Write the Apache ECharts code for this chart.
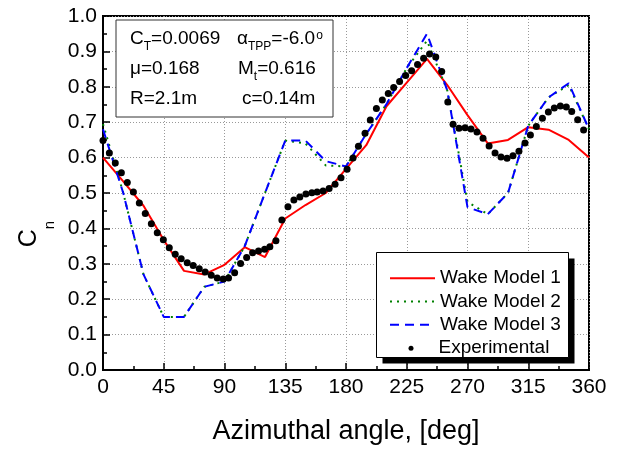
<!DOCTYPE html>
<html>
<head>
<meta charset="utf-8">
<title>Cn vs azimuth</title>
<script src="https://cdn.jsdelivr.net/npm/echarts@6/dist/echarts.min.js"></script>
<style>
html, body { margin: 0; padding: 0; background: #fff; }
#chart { width: 626px; height: 450px; }
</style>
</head>
<body>
<div id="chart"></div>
<script>
// model curves, every 15 deg
var modelAngle = [0, 15, 30, 45, 60, 75, 90, 105, 120, 135, 150, 165, 180, 195, 210, 225, 240, 255, 270, 285, 300, 315, 330, 345, 360];
var wake1 = [0.600, 0.533, 0.464, 0.367, 0.280, 0.270, 0.297, 0.347, 0.319, 0.428, 0.466, 0.500, 0.568, 0.635, 0.745, 0.812, 0.879, 0.805, 0.720, 0.640, 0.650, 0.686, 0.679, 0.650, 0.600];
var wake2 = [0.695, 0.500, 0.270, 0.150, 0.150, 0.235, 0.250, 0.350, 0.500, 0.648, 0.640, 0.578, 0.575, 0.667, 0.751, 0.853, 0.930, 0.790, 0.475, 0.440, 0.500, 0.690, 0.770, 0.805, 0.680];
var wake3 = [0.680, 0.500, 0.270, 0.150, 0.150, 0.235, 0.250, 0.350, 0.500, 0.648, 0.648, 0.590, 0.575, 0.667, 0.751, 0.853, 0.950, 0.790, 0.460, 0.440, 0.500, 0.690, 0.770, 0.810, 0.680];

// experimental points
var expAngle = [0, 4.7, 9.1, 13.6, 18, 22.5, 26.9, 31.3, 35.8, 40.2,
    44.7, 49.1, 53.5, 57.9, 62.4, 66.8, 71.3, 75.7, 80.2, 84.6,
    89.1, 93.0, 97.5, 101.9, 106.4, 110.8, 115.2, 119.7, 123.6, 128.1,
    132.5, 137, 141.4, 145.8, 150.3, 154.7, 158.6, 163, 167.5, 171.9,
    176.3, 180.8, 185.2, 189.2, 194.1, 198, 202.5, 206.9, 211.3, 215.3,
    219.7, 224.2, 228.6, 233, 237.5, 241.9, 246.5, 250.9, 255.4, 259.3,
    263.7, 268.2, 272.6, 277, 281.5, 286, 290.4, 294.8, 299.3, 303.7,
    308.1, 312.6, 316.6, 321, 325.5, 329.9, 334.3, 338.8, 343.2, 347.2,
    351.6, 356];
var expCn = [0.648, 0.613, 0.585, 0.557, 0.530, 0.503, 0.472, 0.442, 0.413, 0.388,
    0.368, 0.345, 0.327, 0.314, 0.303, 0.295, 0.286, 0.277, 0.268, 0.260,
    0.257, 0.260, 0.275, 0.301, 0.318, 0.331, 0.336, 0.341, 0.348, 0.365,
    0.424, 0.461, 0.480, 0.489, 0.497, 0.501, 0.503, 0.506, 0.513, 0.525,
    0.543, 0.567, 0.599, 0.632, 0.669, 0.706, 0.739, 0.763, 0.781, 0.798,
    0.815, 0.832, 0.845, 0.863, 0.881, 0.893, 0.884, 0.843, 0.757, 0.694,
    0.683, 0.684, 0.681, 0.672, 0.655, 0.633, 0.613, 0.602, 0.598, 0.605,
    0.618, 0.641, 0.664, 0.688, 0.711, 0.729, 0.740, 0.746, 0.743, 0.730,
    0.707, 0.678];

var seriesNames = ['Wake Model 1', 'Wake Model 2', 'Wake Model 3', 'Experimental'];

var FONT = '"Liberation Sans", Arial, sans-serif';

function pairs(xs, ys) {
    return xs.map(function (x, i) { return [x, ys[i]]; });
}

var chart = echarts.init(document.getElementById('chart'));

var mainText = { fontSize: 19, fontFamily: FONT, color: '#000', lineHeight: 24, verticalAlign: 'top' };
var subText = { fontSize: 12, fontFamily: FONT, color: '#000', lineHeight: 12, padding: [11, 0, 0, 0], verticalAlign: 'top' };
var supText = { fontSize: 12, fontFamily: FONT, color: '#000', lineHeight: 12, padding: [0, 0, 0, 1], verticalAlign: 'top' };
var boxRich = { m: mainText, s: subText, p: supText };

function boxText(x, y, txt) {
    return {
        type: 'text', x: x, y: y, z: 12,
        style: { text: txt, rich: boxRich, verticalAlign: 'middle', align: 'left' }
    };
}

var legendText = { fontSize: 19, lineHeight: 23.3, color: '#000', fontFamily: FONT };

var option = {
    animation: false,
    textStyle: { fontFamily: FONT },
    grid: {
        left: 103, right: 37, top: 16, bottom: 77,
        show: true, borderColor: '#000', borderWidth: 2
    },
    xAxis: {
        type: 'value', min: 0, max: 360, interval: 45,
        name: 'Azimuthal angle, [deg]',
        nameLocation: 'middle', nameGap: 48,
        nameTextStyle: { fontSize: 27, color: '#000', fontFamily: FONT },
        axisLine: { show: true, lineStyle: { color: '#000', width: 2 } },
        axisTick: { show: true, inside: true, length: 7, lineStyle: { color: '#000', width: 1.5 } },
        minorTick: { show: true, splitNumber: 2, length: 4, lineStyle: { color: '#000', width: 1.5 } },
        axisLabel: { margin: 7, fontSize: 21, color: '#000', fontFamily: FONT },
        splitLine: { show: true, lineStyle: { color: '#999', type: [1, 2], width: 1 } }
    },
    yAxis: {
        type: 'value', min: 0, max: 1, interval: 0.1,
        name: '{c|C}{s|n}',
        nameLocation: 'middle', nameGap: 53,
        nameTextStyle: {
            padding: [0, 82, 0, 0],
            rich: {
                c: { fontSize: 25, fontFamily: FONT, color: '#000', lineHeight: 28, verticalAlign: 'top' },
                s: { fontSize: 15, fontFamily: FONT, color: '#000', lineHeight: 15, padding: [25, 0, 0, 0], verticalAlign: 'top' }
            }
        },
        axisLine: { show: true, lineStyle: { color: '#000', width: 2 } },
        axisTick: { show: true, inside: true, length: 7, lineStyle: { color: '#000', width: 1.5 } },
        minorTick: { show: true, splitNumber: 2, length: 4, lineStyle: { color: '#000', width: 1.5 } },
        axisLabel: {
            margin: 6, fontSize: 21, color: '#000', fontFamily: FONT,
            formatter: function (v) { return v.toFixed(1); }
        },
        splitLine: { show: true, lineStyle: { color: '#999', type: [1, 2], width: 1 } }
    },
    legend: [{
        data: seriesNames.slice(0, 3),
        orient: 'vertical', left: 389, top: 266.5,
        itemWidth: 45, itemHeight: 10, itemGap: 0, padding: 0,
        itemStyle: { opacity: 0 },
        selectedMode: false, z: 20,
        textStyle: legendText
    }, {
        data: [seriesNames[3]],
        orient: 'vertical', left: 408.5, top: 336.5,
        itemWidth: 5, itemHeight: 5, itemGap: 0, padding: 0,
        icon: 'circle',
        selectedMode: false, z: 20,
        textStyle: { fontSize: 19, lineHeight: 23.3, color: '#000', fontFamily: FONT, padding: [0, 0, 0, 20] }
    }],
    graphic: [
        // parameter box
        { type: 'rect', z: 10, shape: { x: 116, y: 20, width: 217, height: 97 },
          style: { fill: '#fff', stroke: '#333', lineWidth: 1 } },
        boxText(130, 41.7, '{m|C}{s|T}{m|=0.0069}'),
        boxText(237, 41.7, '{m|α}{s|TPP}{m|=-6.0}{p|o}'),
        boxText(130, 71.7, '{m|μ=0.168}'),
        boxText(238, 71.7, '{m|M}{s|t}{m|=0.616}'),
        boxText(130, 101.7, '{m|R=2.1m}'),
        boxText(242, 101.7, '{m|c=0.14m}'),
        // legend frame with shadow
        { type: 'rect', z: 10, shape: { x: 382.5, y: 258.5, width: 192, height: 105 },
          style: { fill: '#000' } },
        { type: 'rect', z: 11, shape: { x: 376.5, y: 252.5, width: 192, height: 105 },
          style: { fill: '#fff', stroke: '#000', lineWidth: 1 } }
    ],
    series: [{
        name: seriesNames[0], type: 'line', data: pairs(modelAngle, wake1),
        symbol: 'none', lineStyle: { color: '#ff0000', width: 2 }, itemStyle: { color: '#ff0000' }
    }, {
        name: seriesNames[1], type: 'line', data: pairs(modelAngle, wake2),
        symbol: 'none', lineStyle: { color: '#008000', width: 2, type: [2, 5] }, itemStyle: { color: '#008000' }
    }, {
        name: seriesNames[2], type: 'line', data: pairs(modelAngle, wake3),
        symbol: 'none', lineStyle: { color: '#0000ff', width: 2, type: [9, 6] }, itemStyle: { color: '#0000ff' }
    }, {
        name: seriesNames[3], type: 'scatter', data: pairs(expAngle, expCn),
        symbol: 'circle', symbolSize: 7, itemStyle: { color: '#000', opacity: 1 }, z: 5
    }]
};

chart.setOption(option);
</script>
</body>
</html>
